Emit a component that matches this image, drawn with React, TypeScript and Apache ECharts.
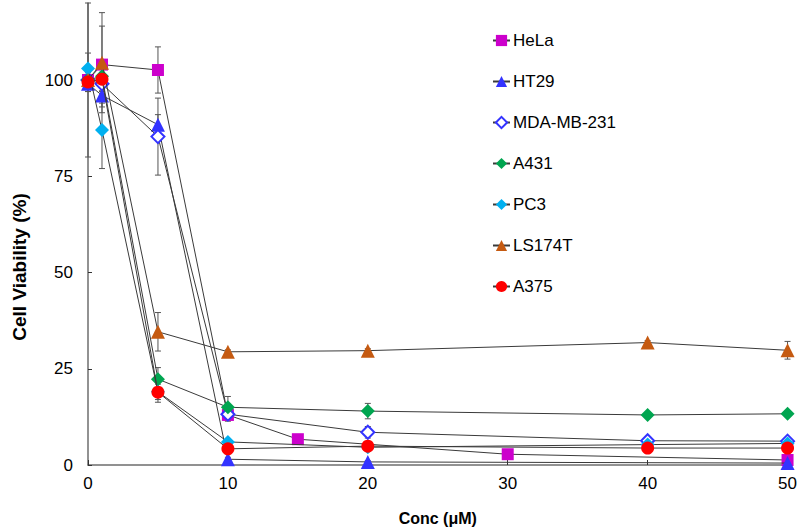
import React, { useEffect, useRef } from "react";
import * as echarts from "echarts";

const seriesNames = ["HeLa", "HT29", "MDA-MB-231", "A431", "PC3", "LS174T", "A375"];

const concHeLa = [0, 1, 5, 10, 15, 30, 50];
const viabHeLa = [100, 104, 102.6, 13, 6.7, 2.8, 1.3];
const errHeLa = [2, 10, 6, 1.5, 0.5, 0.5, 0.5];

const concHT29 = [0, 1, 5, 10, 20, 50];
const viabHT29 = [99, 96, 88.4, 1.5, 0.8, 0.5];
const errHT29 = [2, 3, 2.6, 0.5, 0.3, 0.3];

const concMDA = [0, 1, 5, 10, 20, 40, 50];
const viabMDA = [100, 99, 85.3, 13.2, 8.5, 6.3, 6.2];
const errMDA = [2, 3, 10, 1.8, 1.5, 0.5, 0.5];

const concA431 = [0, 1, 5, 10, 20, 40, 50];
const viabA431 = [100, 101, 22.3, 15, 14, 13, 13.3];
const errA431 = [20, 3, 3, 2.8, 2, 0.5, 0.5];

const concPC3 = [0, 1, 5, 10, 20, 40, 50];
const viabPC3 = [103, 87, 19, 6, 4.6, 5.3, 5.6];
const errPC3 = [4, 10, 2, 0.8, 0.5, 0.5, 0.5];

const concLS174T = [0, 1, 5, 10, 20, 40, 50];
const viabLS174T = [100, 104.5, 34.6, 29.4, 29.7, 31.8, 29.8];
const errLS174T = [3, 13, 5, 0.5, 0.5, 0.5, 2.3];

const concA375 = [0, 1, 5, 10, 20, 40, 50];
const viabA375 = [99.5, 100.2, 18.9, 4.2, 4.9, 4.4, 4.4];
const errA375 = [2, 3, 2.6, 0.5, 0.5, 0.5, 0.5];

const xTicks = [0, 10, 20, 30, 40, 50];

const FONT = "Liberation Sans, Arial, sans-serif";

export default function App() {
  const ref = useRef<HTMLDivElement>(null);

  useEffect(() => {
    if (!ref.current) return;
    const chart = echarts.init(ref.current, undefined, { renderer: "svg" });

    const defs = [
      { name: seriesNames[0], x: concHeLa, y: viabHeLa, e: errHeLa, symbol: "rect", size: 12, color: "#CC00CC" },
      { name: seriesNames[1], x: concHT29, y: viabHT29, e: errHT29, symbol: "triangle", size: 14, color: "#3333FF" },
      { name: seriesNames[2], x: concMDA, y: viabMDA, e: errMDA, symbol: "diamond", size: 13, color: "#3333FF", open: true },
      { name: seriesNames[3], x: concA431, y: viabA431, e: errA431, symbol: "diamond", size: 14, color: "#00A550" },
      { name: seriesNames[4], x: concPC3, y: viabPC3, e: errPC3, symbol: "diamond", size: 14, color: "#00B0F0" },
      { name: seriesNames[5], x: concLS174T, y: viabLS174T, e: errLS174T, symbol: "triangle", size: 14, color: "#C55A11" },
      { name: seriesNames[6], x: concA375, y: viabA375, e: errA375, symbol: "circle", size: 13, color: "#FF0000" },
    ];

    const errSeries = defs.map((d) => ({
      type: "custom",
      name: d.name + " err",
      z: 1,
      silent: true,
      data: d.x.map((xv, i) => [xv, d.y[i], d.e[i]]),
      encode: { x: 0, y: 1 },
      renderItem: (params: any, api: any) => {
        const xv = api.value(0);
        const yv = api.value(1);
        const ev = api.value(2);
        const top = api.coord([xv, yv + ev]);
        const bot = api.coord([xv, yv - ev]);
        const hw = 3;
        const style = { stroke: "#555555", lineWidth: 1 };
        return {
          type: "group",
          children: [
            { type: "line", shape: { x1: top[0], y1: top[1], x2: bot[0], y2: bot[1] }, style },
            { type: "line", shape: { x1: top[0] - hw, y1: top[1], x2: top[0] + hw, y2: top[1] }, style },
            { type: "line", shape: { x1: bot[0] - hw, y1: bot[1], x2: bot[0] + hw, y2: bot[1] }, style },
          ],
        };
      },
    }));

    const lineSeries = defs.map((d, k) => ({
      type: "line",
      name: d.name,
      z: 2 + k,
      data: d.x.map((xv, i) => [xv, d.y[i]]),
      symbol: d.symbol,
      symbolSize: d.size,
      showAllSymbol: true,
      lineStyle: { color: "#3a3a3a", width: 1 },
      itemStyle: d.open
        ? { color: "#ffffff", borderColor: d.color, borderWidth: 2 }
        : { color: d.color, borderWidth: 0 },
      emphasis: { disabled: true },
    }));

    chart.setOption({
      animation: false,
      backgroundColor: "#ffffff",
      grid: { left: 88, right: 9, top: 3, bottom: 64, containLabel: false },
      legend: {
        orient: "vertical",
        left: 487,
        top: 27,
        itemWidth: 17,
        itemHeight: 14,
        itemGap: 24,
        data: seriesNames,
        textStyle: { fontFamily: FONT, fontSize: 17, color: "#000000", padding: [0, 0, 0, -2] },
      },
      xAxis: {
        type: "value",
        min: xTicks[0],
        max: xTicks[xTicks.length - 1],
        interval: 10,
        name: "Conc (\u03bcM)",
        nameLocation: "middle",
        nameGap: 45,
        nameTextStyle: { fontFamily: FONT, fontSize: 16, fontWeight: "bold", color: "#000" },
        axisLine: { lineStyle: { color: "#6e6e6e", width: 1.5 } },
        axisTick: { inside: true, length: 5, lineStyle: { color: "#333" } },
        axisLabel: { fontFamily: FONT, fontSize: 17, color: "#000", margin: 10 },
        splitLine: { show: false },
      },
      yAxis: {
        type: "value",
        min: 0,
        max: 120,
        interval: 25,
        axisLine: { show: true, lineStyle: { color: "#6e6e6e", width: 1.5 } },
        axisTick: { show: true, inside: true, length: 4, lineStyle: { color: "#333" } },
        axisLabel: { fontFamily: FONT, fontSize: 17, color: "#000", margin: 15, showMaxLabel: false },
        splitLine: { show: false },
      },
      graphic: [
        {
          type: "text",
          x: 19,
          y: 267,
          rotation: Math.PI / 2,
          style: {
            text: "Cell Viability (%)",
            fontFamily: FONT,
            fontSize: 19,
            fontWeight: "bold",
            fill: "#000",
            align: "center",
            verticalAlign: "middle",
          },
        },
      ],
      series: [...errSeries, ...lineSeries],
    });

    return () => chart.dispose();
  }, []);

  return <div ref={ref} style={{ width: 800, height: 531, position: "absolute", left: 0, top: 0 }} />;
}
